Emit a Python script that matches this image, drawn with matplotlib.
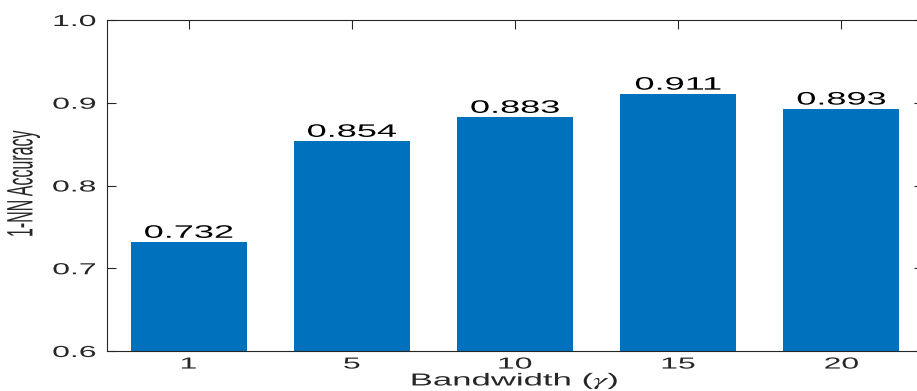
import matplotlib
matplotlib.use("Agg")
import matplotlib.pyplot as plt
from matplotlib.patheffects import AbstractPathEffect
from matplotlib.transforms import Affine2D

# 1-NN accuracy for each kernel bandwidth
bandwidths = ["1", "5", "10", "15", "20"]
accuracy = [0.732, 0.854, 0.883, 0.911, 0.893]
y_ticks = [0.6, 0.7, 0.8, 0.9, 1.0]

BAR_COLOR = "#0072BD"
AXIS_COLOR = "#262626"


class Stretch(AbstractPathEffect):
    """Widen the glyphs horizontally around a fixed anchor."""

    def __init__(self, sx=2.0, anchor="center"):
        super().__init__()
        self.sx = sx
        self.anchor = anchor

    def draw_path(self, renderer, gc, tpath, affine, rgbFace=None):
        ext = tpath.get_extents(affine)
        if self.anchor == "right":
            x0 = ext.x1
        elif self.anchor == "left":
            x0 = ext.x0
        else:
            x0 = 0.5 * (ext.x0 + ext.x1)
        t = affine + Affine2D().translate(-x0, 0).scale(self.sx, 1).translate(x0, 0)
        renderer.draw_path(gc, tpath, t, rgbFace)


plt.rcParams["font.family"] = ["Liberation Sans", "DejaVu Sans"]
plt.rcParams["mathtext.fontset"] = "stix"

fig = plt.figure(figsize=(9.17, 3.91), dpi=100)
ax = fig.add_axes([107 / 917, 40 / 391, 816 / 917, 331 / 391])

x = list(range(len(bandwidths)))
ax.bar(x, accuracy, width=0.71, color=BAR_COLOR, zorder=2)

for xi, v in zip(x, accuracy):
    ax.text(xi, v, f"{v:.3f}", ha="center", va="bottom", fontsize=13,
            color="black", path_effects=[Stretch(2.0)])

ax.set_xlim(-0.5, 4.5)
ax.set_ylim(0.6, 1.0)
ax.set_xticks(x)
ax.set_xticklabels(bandwidths)
ax.set_yticks(y_ticks)
ax.set_yticklabels([f"{t:.1f}" for t in y_ticks])

ax.tick_params(axis="both", direction="in", length=6.5, width=0.8,
               colors=AXIS_COLOR, labelsize=11.5, top=True, right=True)
ax.tick_params(axis="x", pad=4)
ax.tick_params(axis="y", pad=8)
for lab in ax.get_xticklabels():
    lab.set_path_effects([Stretch(2.0)])
for lab in ax.get_yticklabels():
    lab.set_path_effects([Stretch(2.0, anchor="right")])

for side in ax.spines.values():
    side.set_color(AXIS_COLOR)
    side.set_linewidth(0.8)

ax.set_xlabel(r"Bandwidth ($\gamma$)", fontsize=12.5, color=AXIS_COLOR, labelpad=0)
ax.xaxis.label.set_path_effects([Stretch(2.0)])
ax.set_ylabel("1-NN Accuracy", fontsize=11.5, color=AXIS_COLOR)
ax.yaxis.set_label_coords(-0.103, 0.505)
ax.yaxis.label.set_va("center")
ax.yaxis.label.set_path_effects([Stretch(2.3)])

fig.savefig("out.png", dpi=100)
